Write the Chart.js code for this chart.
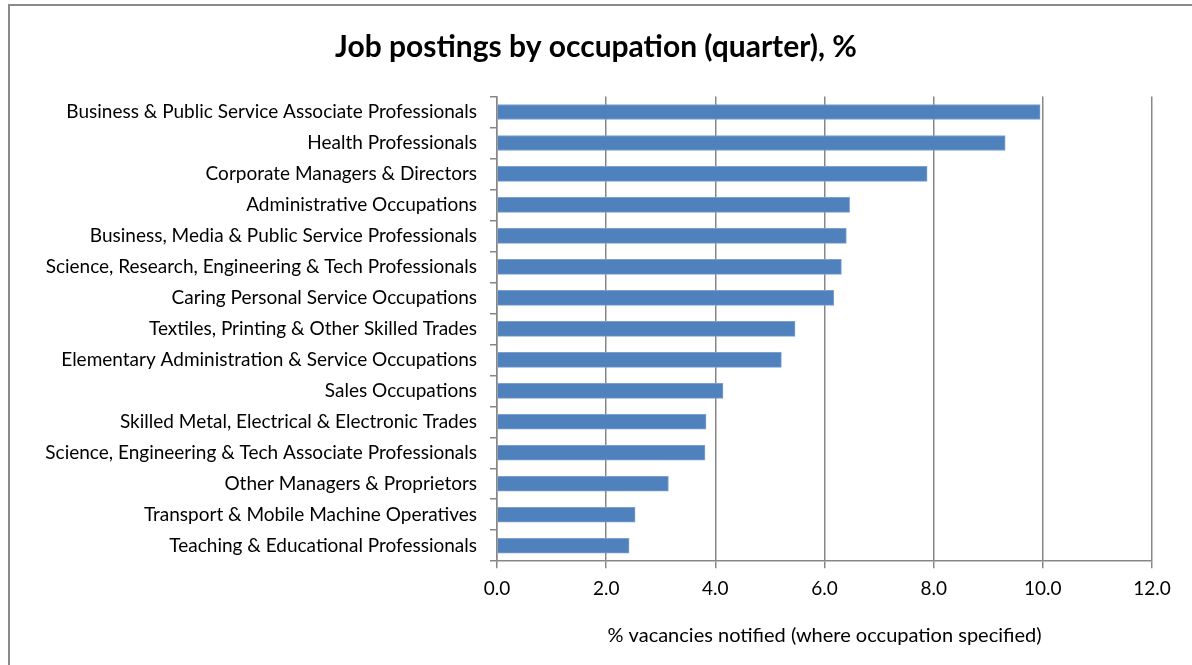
<!DOCTYPE html>
<html>
<head>
<meta charset="utf-8">
<script src="https://cdn.jsdelivr.net/npm/chart.js@4"></script>
<style>
    html, body { margin: 0; padding: 0; background: #ffffff; overflow: hidden; }
    #frame {
        position: absolute; left: 8px; top: 4px;
        width: 1250px; height: 720px;
        border: 2px solid #8a8a8a;
    }
    #wrap { position: absolute; left: 0; top: 0; width: 1192px; height: 665px; }
</style>
</head>
<body>
<div id="frame"></div>
<div id="wrap"><canvas id="bar-canvas" width="1192" height="665"></canvas></div>
<script>
// occupations, top to bottom as in the source chart
var occupations = [
    'Business & Public Service Associate Professionals',
    'Health Professionals',
    'Corporate Managers & Directors',
    'Administrative Occupations',
    'Business, Media & Public Service Professionals',
    'Science, Research, Engineering & Tech Professionals',
    'Caring Personal Service Occupations',
    'Textiles, Printing & Other Skilled Trades',
    'Elementary Administration & Service Occupations',
    'Sales Occupations',
    'Skilled Metal, Electrical & Electronic Trades',
    'Science, Engineering & Tech Associate Professionals',
    'Other Managers & Proprietors',
    'Transport & Mobile Machine Operatives',
    'Teaching & Educational Professionals'
];

var shares = [9.95, 9.31, 7.88, 6.46, 6.40, 6.31, 6.17, 5.46, 5.21, 4.14, 3.83, 3.81, 3.14, 2.53, 2.42];

var xMin = 0;
var xMax = 12;
var xStep = 2;

var gridGrey = '#878787';
var fontName = 'Lato, "Liberation Sans", sans-serif';
var padLeft = 40;

var barConfig = {
    type: 'bar',
    data: {
        labels: occupations,
        datasets: [{
            label: '% vacancies notified',
            data: shares,
            backgroundColor: '#4f81bd',
            borderColor: '#7a9fd0',
            borderWidth: 1,
            barThickness: 15
        }]
    },
    options: {
        indexAxis: 'y',
        responsive: false,
        animation: false,
        layout: {
            padding: { left: padLeft, right: 40, top: 0, bottom: 0 }
        },
        plugins: {
            legend: { display: false },
            tooltip: { enabled: false },
            title: {
                display: true,
                text: 'Job postings by occupation (quarter), %',
                color: '#000',
                font: { family: fontName, size: 30, weight: 'bold', lineHeight: 1.2 },
                padding: { top: 29, bottom: 31.5 }
            }
        },
        scales: {
            x: {
                min: xMin,
                max: xMax,
                ticks: {
                    stepSize: xStep,
                    color: '#000',
                    padding: 9,
                    font: { family: fontName, size: 19 },
                    callback: function (v) { return Number(v).toFixed(1); }
                },
                grid: {
                    color: gridGrey,
                    lineWidth: 1.5,
                    tickLength: 7,
                    drawTicks: true
                },
                border: { color: gridGrey, width: 1.5 },
                title: {
                    display: true,
                    text: '% vacancies notified (where occupation specified)',
                    color: '#000',
                    font: { family: fontName, size: 20, lineHeight: 1.2 },
                    padding: { top: 15, bottom: 17 }
                }
            },
            y: {
                afterFit: function (scale) { scale.width = 497 - padLeft; },
                ticks: {
                    color: '#000',
                    padding: 13,
                    font: { family: fontName, size: 19 }
                },
                grid: {
                    offset: true,
                    drawOnChartArea: false,
                    color: gridGrey,
                    lineWidth: 1.5,
                    tickLength: 7
                },
                border: { color: gridGrey, width: 1.5 }
            }
        }
    }
};

var ctx = document.getElementById('bar-canvas').getContext('2d');
window.myBar = new Chart(ctx, barConfig);
</script>
</body>
</html>
